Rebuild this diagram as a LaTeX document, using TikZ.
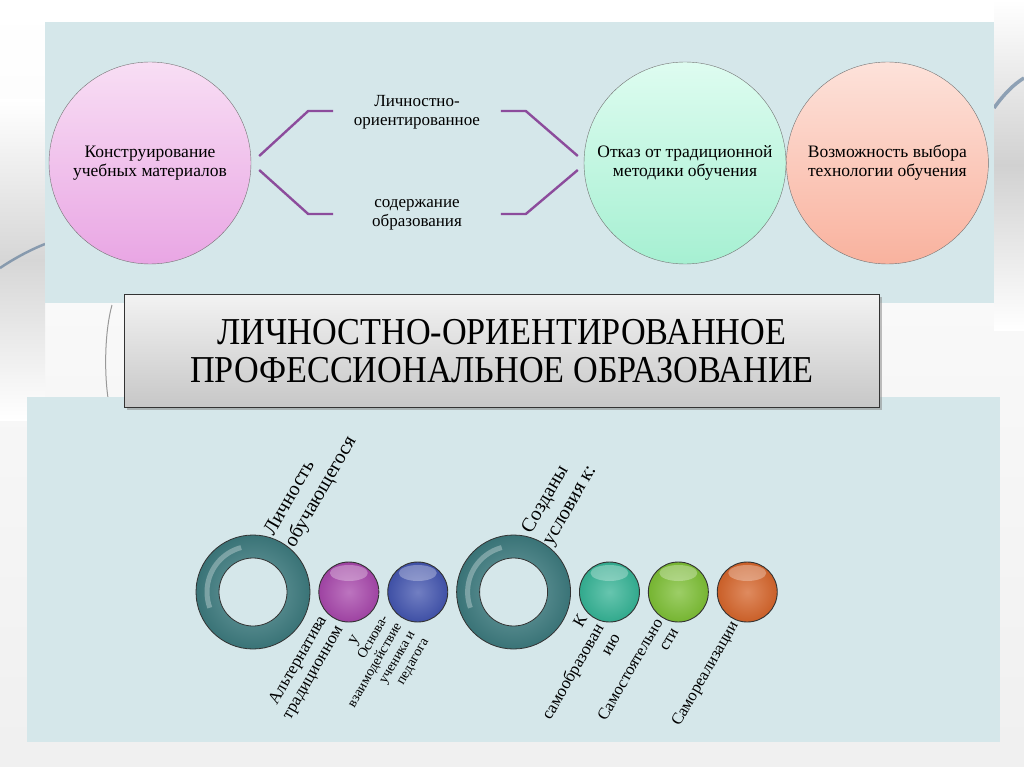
\documentclass[tikz,border=0pt]{standalone}
\usepackage{fontspec}
\setmainfont{Liberation Serif}
\newfontfamily\titlefont[FakeStretch=0.9]{Liberation Serif}
\usepackage{tikz}
\usetikzlibrary{calc,positioning,shadows}
\definecolor{panelblue}{RGB}{213,231,234}
\definecolor{bracketpurple}{RGB}{140,76,156}
\definecolor{ringteal}{RGB}{64,128,132}
\definecolor{pinktop}{RGB}{248,222,244}
\definecolor{pinkbot}{RGB}{233,166,228}
\definecolor{greentop}{RGB}{222,252,240}
\definecolor{greenbot}{RGB}{166,240,210}
\definecolor{salmontop}{RGB}{253,226,218}
\definecolor{salmonbot}{RGB}{249,178,158}
\definecolor{ballpurple}{RGB}{166,70,170}
\definecolor{ballblue}{RGB}{66,84,174}
\definecolor{ballteal}{RGB}{52,178,148}
\definecolor{balllime}{RGB}{124,190,52}
\definecolor{ballorange}{RGB}{212,100,42}
\definecolor{swooshblue}{RGB}{70,104,140}

\begin{document}
\begin{tikzpicture}[x=1pt, y=-1pt,
    topcircle/.style={circle, draw=black!55, thin, minimum size=202pt, inner sep=0pt,
                      align=center, font=\fontsize{17.5}{19}\selectfont},
    bracket/.style={draw=bracketpurple, line width=2.4pt},
    brtext/.style={align=center, font=\fontsize{17}{19}\selectfont},
    titlebox/.style={draw=black!80, line width=1.2pt, top color=white!95!black, bottom color=black!22,
                     minimum width=755pt, minimum height=113pt, align=center, drop shadow,
                     font=\titlefont\fontsize{38}{38}\selectfont},
    ringnode/.style={circle, minimum size=114pt, inner sep=0pt, draw=black!80, line width=0.8pt,
                     shading=radial, inner color=ringteal!75!white, outer color=ringteal!90!black},
    holenode/.style={circle, minimum size=68pt, inner sep=0pt, fill=panelblue, draw=black!80, line width=0.8pt},
    ball/.style={circle, minimum size=60pt, inner sep=0pt, draw=black!80, line width=0.9pt,
                 shading=radial, inner color=#1!75!white, outer color=#1!95!black,
                 path picture={\fill[white, opacity=.3] ([yshift=-11pt]path picture bounding box.north)
                               ellipse [x radius=19pt, y radius=8pt];}},
    uplabel/.style={rotate=60, anchor=west, align=left, inner sep=0pt,
                    font=\fontsize{20}{24}\selectfont},
    lowlabel/.style={rotate=60, anchor=east, align=right, inner sep=0pt,
                     font=\fontsize{17}{19}\selectfont},
    node distance=8pt
  ]
  \useasboundingbox (0,0) rectangle (1024,767);
  % slide background
  \shade[top color=white, bottom color=black!6] (0,0) rectangle (1024,767);
  \shade[top color=white, bottom color=white, middle color=black!16] (0,100) rectangle (45,420);
  \shade[top color=white, bottom color=white, middle color=black!18] (994,0) rectangle (1024,330);
  \draw[swooshblue, line width=2.5pt, opacity=.55] (0,268) .. controls (15,258) and (30,250) .. (45,244);
  \draw[swooshblue, line width=3.5pt, opacity=.55] (994,108) .. controls (1004,94) and (1014,84) .. (1024,78);
  \draw[black!40, line width=1pt] (112,305) .. controls (105,330) and (104,370) .. (108,398);

  % panels
  \fill[panelblue] (45,22) rectangle (994,303);
  \fill[panelblue] (27,397) rectangle (1000,742);

  % top row
  \node[topcircle, top color=pinktop, bottom color=pinkbot] (pink) at (150,163) {Конструирование\\учебных материалов};
  \node[topcircle, top color=greentop, bottom color=greenbot] (green) at (685,163) {Отказ от традиционной\\методики обучения};
  \node[topcircle, top color=salmontop, bottom color=salmonbot, right=0pt of green] (salmon) {Возможность выбора\\технологии обучения};

  \node[brtext] (upper) at (417,112) {Личностно-\\ориентированное};
  \node[brtext] (lower) at (417,215) {содержание\\образования};

  \draw[bracket] ($(pink.east)+(8,-7)$) -- ++(49,-45) -- ++(25,0);
  \draw[bracket] ($(pink.east)+(8,7)$) -- ++(49,44) -- ++(25,0);
  \draw[bracket] ($(green.west)+(-6,-7)$) -- ++(-52,-45) -- ++(-25,0);
  \draw[bracket] ($(green.west)+(-6,7)$) -- ++(-52,44) -- ++(-25,0);

  % title
  \node[titlebox] (title) at (502,351) {ЛИЧНОСТНО-ОРИЕНТИРОВАННОЕ\\ПРОФЕССИОНАЛЬНОЕ ОБРАЗОВАНИЕ};

  % bottom row
  \node[ringnode] (ring1) at (253,592) {};
  \node[holenode] (hole1) at (ring1) {};
  \node[ball=ballpurple, right=of ring1] (purple) {};
  \node[ball=ballblue, right=of purple] (blue) {};
  \node[ringnode, right=of blue] (ring2) {};
  \node[holenode] (hole2) at (ring2) {};
  \node[ball=ballteal, right=of ring2] (teal) {};
  \node[ball=balllime, right=of teal] (lime) {};
  \node[ball=ballorange, right=of lime] (orange) {};

  \draw[white, opacity=.3, line width=5pt] ($(ring1)+(105:46pt)$) arc[start angle=105, end angle=200, radius=46pt];
  \draw[white, opacity=.3, line width=5pt] ($(ring2)+(105:46pt)$) arc[start angle=105, end angle=200, radius=46pt];

  \node[uplabel] (personlbl) at ($(ring1)+(27,-52)$) {Личность\\обучающегося};
  \node[uplabel] (condlbl) at ($(ring2)+(24,-54)$) {Созданы\\условия к:};

  \node[lowlabel] (altlbl) at ($(purple)+(-9,35)$) {Альтернатива\\традиционном\\у};
  \node[lowlabel, font=\fontsize{14}{15.5}\selectfont] (baselbl) at ($(blue)+(-12,36)$) {Основа-\\взаимодействие\\ученика и\\педагога};
  \node[lowlabel] (selfedlbl) at ($(teal)+(-10,33)$) {К\\самообразован\\ию};
  \node[lowlabel, font=\fontsize{16.5}{18}\selectfont] (indeplbl) at ($(lime)+(-12,32)$) {Самостоятельно\\сти};
  \node[lowlabel, font=\fontsize{16.5}{18}\selectfont] (reallbl) at ($(orange)+(-12,31)$) {Самореализации};
\end{tikzpicture}
\end{document}
